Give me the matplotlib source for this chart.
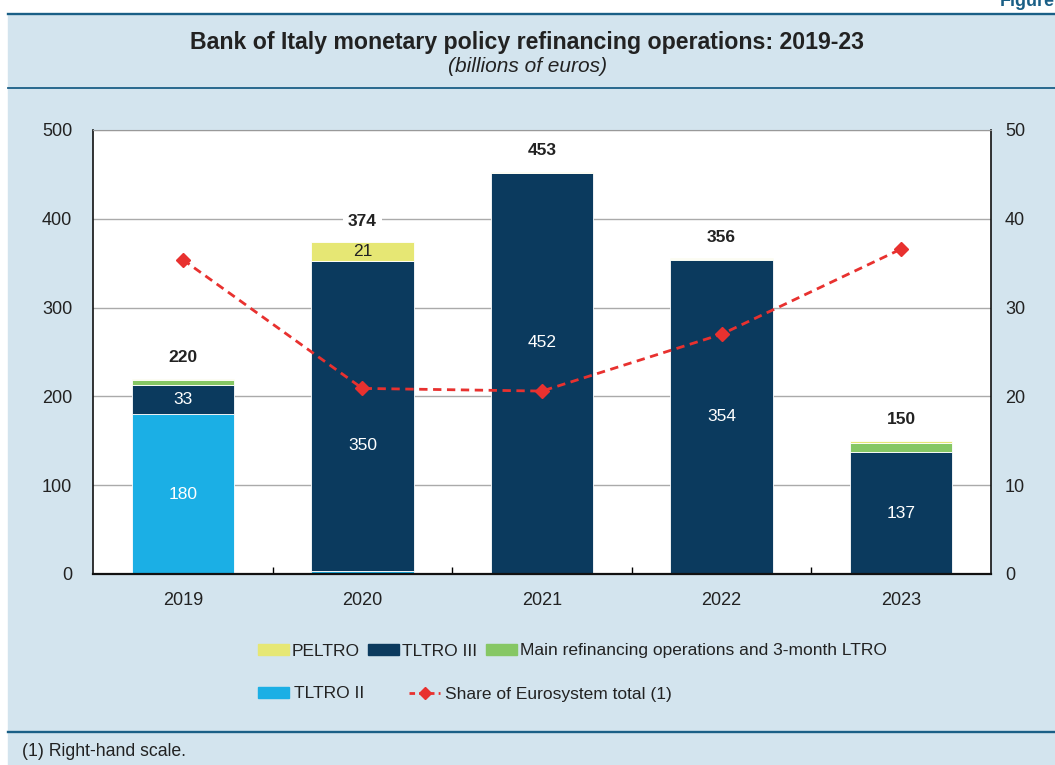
import numpy as np
import matplotlib.pyplot as plt
from matplotlib.patches import Patch
from matplotlib.lines import Line2D

plt.rcParams["font.family"] = ["Liberation Sans", "DejaVu Sans"]

# %% Data

years = ["2019", "2020", "2021", "2022", "2023"]
tltro_ii = [180, 3, 0, 0, 0]
tltro_iii = [33, 350, 452, 354, 137]
mro = [5, 0, 0, 1, 11]
peltro = [2, 21, 1, 1, 2]
totals = [220, 374, 453, 356, 150]
share = [35.4, 20.9, 20.6, 27.0, 36.6]  # right-hand scale

# labels printed inside the bars: (series, year index, text)
inner_labels = [
    ("tltro_ii", 0, "180"),
    ("tltro_iii", 0, "33"),
    ("tltro_iii", 1, "350"),
    ("peltro", 1, "21"),
    ("tltro_iii", 2, "452"),
    ("tltro_iii", 3, "354"),
    ("tltro_iii", 4, "137"),
]

# %% Style

bg = "#d3e4ee"
rule = "#1a5f86"
c_tltro_ii = "#1bafe5"
c_tltro_iii = "#0b3a5e"
c_mro = "#86c764"
c_peltro = "#e6e774"
c_share = "#e8312f"
txt = "#222222"

fig = plt.figure(figsize=(10.55, 7.65), dpi=100)
fig.patch.set_facecolor("white")

# light blue panel and the horizontal rules
panel = plt.Rectangle((8 / 1055, 0), 1 - 8 / 1055, 1 - 14 / 765,
                      transform=fig.transFigure, color=bg, zorder=-10)
fig.patches.append(panel)
for ypix, lw in [(14, 1.7), (88, 1.3), (732, 1.7)]:
    fig.add_artist(Line2D([8 / 1055, 1], [1 - ypix / 765] * 2,
                          transform=fig.transFigure, color=rule, lw=lw))

# the page's "Figure" tag, cut by the top edge as in the original
fig.text(1.0, 1 - 1 / 765, "Figure", ha="right", va="center",
         fontsize=13, fontweight="bold", color=rule)
fig.text(0.5, 1 - 43 / 765,
         "Bank of Italy monetary policy refinancing operations: 2019-23",
         ha="center", va="center", fontsize=16.7, fontweight="bold", color=txt)
fig.text(0.5, 1 - 67 / 765, "(billions of euros)", ha="center", va="center",
         fontsize=15, style="italic", color=txt)
fig.text(22 / 1055, 1 - 752 / 765, "(1) Right-hand scale.", ha="left",
         va="center", fontsize=12.7, color=txt)

# %% Bars

ax = fig.add_axes([93 / 1055, 1 - 574 / 765, (991 - 93) / 1055, (574 - 130) / 765])
ax.set_facecolor("white")

x = np.arange(len(years))
w = 0.57
series = {
    "tltro_ii": (np.array(tltro_ii), c_tltro_ii),
    "tltro_iii": (np.array(tltro_iii), c_tltro_iii),
    "mro": (np.array(mro), c_mro),
    "peltro": (np.array(peltro), c_peltro),
}
bottom = np.zeros(len(years))
bottoms = {}
for name, (vals, col) in series.items():
    bottoms[name] = bottom.copy()
    ax.bar(x, vals, w, bottom=bottom, color=col, edgecolor="white",
           linewidth=0.6, zorder=2)
    bottom = bottom + vals

# shift a couple of labels away from the red line
label_shift = {("tltro_iii", 1): -33, ("tltro_iii", 2): 35}
for name, i, s in inner_labels:
    vals = series[name][0]
    yc = bottoms[name][i] + vals[i] / 2 + label_shift.get((name, i), 0)
    col = txt if name == "peltro" else "white"
    ax.text(x[i], yc, s, ha="center", va="center", fontsize=12.5, color=col,
            zorder=4)

for i, t in enumerate(totals):
    ax.annotate(str(t), (x[i], t), xytext=(0, 15), textcoords="offset points",
                ha="center", va="center", fontsize=12.5, fontweight="bold",
                color=txt, zorder=4,
                bbox=dict(boxstyle="square,pad=0.3", fc="white", ec="none"))

ax.set_xlim(-0.5, len(years) - 0.5)
ax.set_ylim(0, 500)
ax.set_yticks(range(0, 501, 100))
ax.yaxis.grid(True, color="#aaaaaa", lw=1)
ax.set_axisbelow(True)
ax.set_xticks(x)
ax.set_xticklabels(years)
ax.set_xticks(x[:-1] + 0.5, minor=True)
ax.tick_params(axis="x", which="major", length=0, pad=13, labelsize=13,
               labelcolor=txt)
ax.tick_params(axis="x", which="minor", direction="in", length=5, width=1)
ax.tick_params(axis="y", length=0, pad=15, labelsize=13, labelcolor=txt)
for sp in ["left", "right", "bottom"]:
    ax.spines[sp].set_color("#111111")
ax.spines["left"].set_linewidth(1.2)
ax.spines["right"].set_linewidth(1.2)
ax.spines["bottom"].set_linewidth(1.6)
ax.spines["top"].set_color("#999999")

# %% Share line (right axis)

ax2 = ax.twinx()
ax2.plot(x, share, color=c_share, ls=(0, (3, 2)), lw=2, marker="D",
         markersize=7, zorder=5)
ax2.set_ylim(0, 50)
ax2.set_yticks(range(0, 51, 10))
ax2.tick_params(axis="y", length=0, pad=10, labelsize=13, labelcolor=txt)
for sp in ax2.spines.values():
    sp.set_visible(False)

# %% Legend

row1 = [Patch(color=c_peltro), Patch(color=c_tltro_iii), Patch(color=c_mro)]
lab1 = ["PELTRO", "TLTRO III", "Main refinancing operations and 3-month LTRO"]
fig.legend(row1, lab1, loc="center left",
           bbox_to_anchor=(242 / 1055, 1 - 651 / 765), ncol=3,
           frameon=False, fontsize=12.5, handlelength=1.78,
           handleheight=0.63, handletextpad=0.17, columnspacing=0.5,
           labelcolor=txt)

row2 = [Patch(color=c_tltro_ii),
        Line2D([], [], color=c_share, ls=(0, (2, 1.5)), lw=2, marker="D",
               markersize=6)]
lab2 = ["TLTRO II", "Share of Eurosystem total (1)"]
fig.legend(row2, lab2, loc="center left",
           bbox_to_anchor=(242 / 1055, 1 - 694 / 765), ncol=2,
           frameon=False, fontsize=12.5, handlelength=1.78, handleheight=0.63,
           handletextpad=0.3, columnspacing=2.6, labelcolor=txt)

fig.savefig("out.png", dpi=100, facecolor=fig.get_facecolor())
